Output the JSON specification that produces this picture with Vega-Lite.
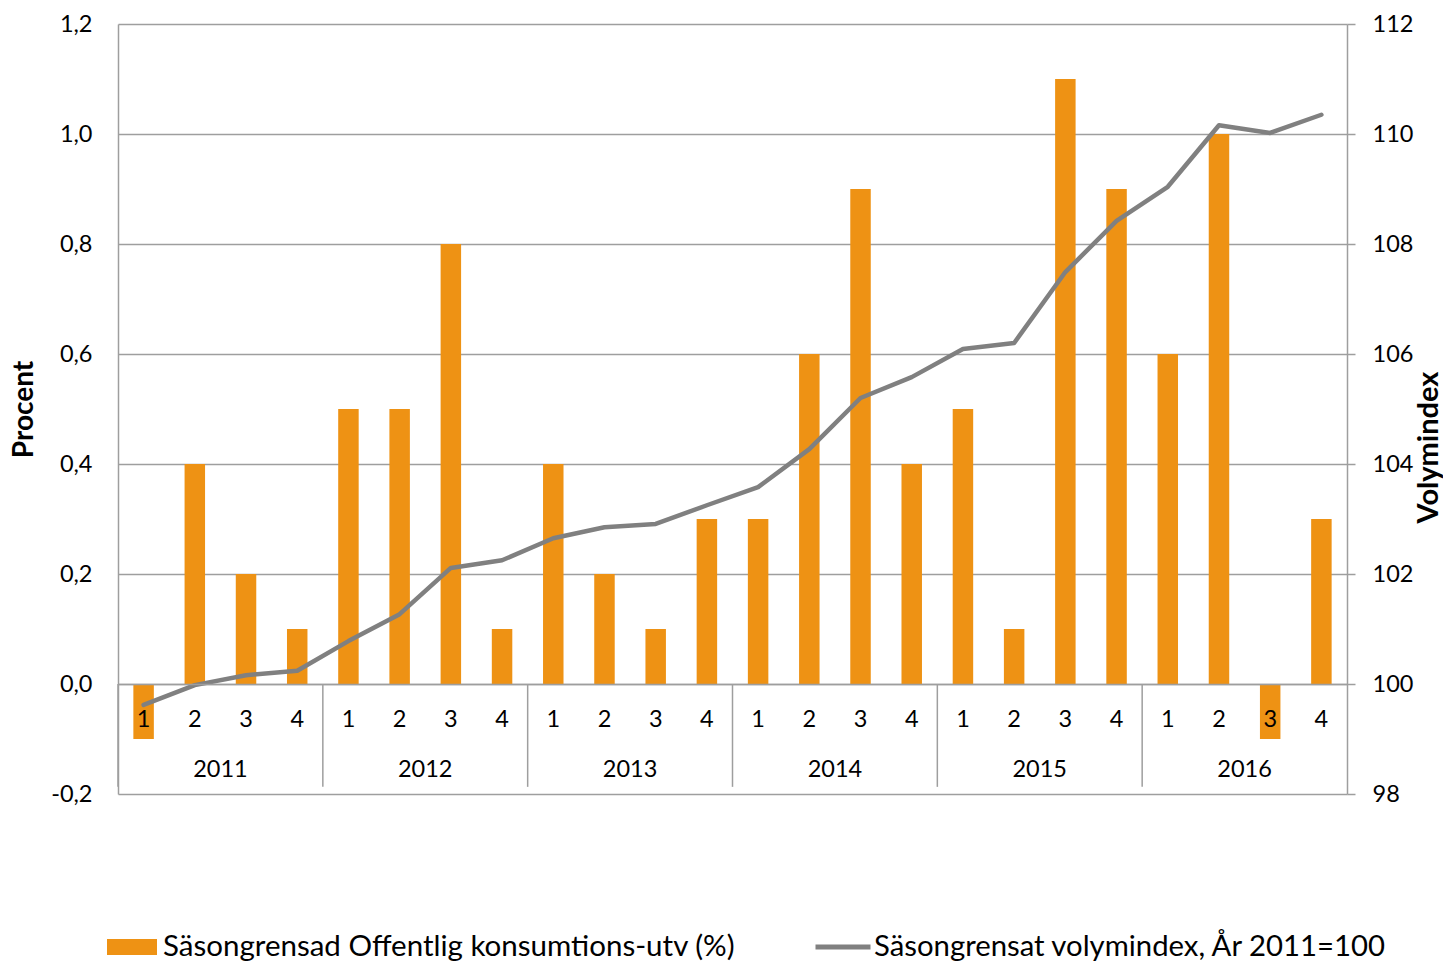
{
  "$schema": "https://vega.github.io/schema/vega-lite/v6.json",
  "width": 1229,
  "height": 770,
  "autosize": {"type": "none"},
  "padding": {"left": 118, "top": 24, "right": 96, "bottom": 169},
  "background": "white",
  "config": {
    "font": "Lato",
    "view": {"stroke": null},
    "locale": {"number": {"decimal": ",", "thousands": " ", "grouping": [3], "currency": ["", " kr"], "minus": "-"}},
    "axis": {"labelColor": "#000000", "titleColor": "#000000", "labelFont": "Lato", "titleFont": "Lato", "labelFontSize": 23.5, "domainColor": "#9E9E9E", "tickColor": "#9E9E9E", "gridColor": "#9E9E9E", "domainWidth": 1.5, "tickWidth": 1.5, "gridWidth": 1.5}
  },
  "layer": [
    {
      "data": {"name": "main", "values": [
        {"q": "2011-1", "pct": -0.1, "idx": 99.62},
        {"q": "2011-2", "pct": 0.4, "idx": 99.98},
        {"q": "2011-3", "pct": 0.2, "idx": 100.16},
        {"q": "2011-4", "pct": 0.1, "idx": 100.24},
        {"q": "2012-1", "pct": 0.5, "idx": 100.78},
        {"q": "2012-2", "pct": 0.5, "idx": 101.27},
        {"q": "2012-3", "pct": 0.8, "idx": 102.11},
        {"q": "2012-4", "pct": 0.1, "idx": 102.25},
        {"q": "2013-1", "pct": 0.4, "idx": 102.65},
        {"q": "2013-2", "pct": 0.2, "idx": 102.85},
        {"q": "2013-3", "pct": 0.1, "idx": 102.91},
        {"q": "2013-4", "pct": 0.3, "idx": 103.25},
        {"q": "2014-1", "pct": 0.3, "idx": 103.58},
        {"q": "2014-2", "pct": 0.6, "idx": 104.27},
        {"q": "2014-3", "pct": 0.9, "idx": 105.2},
        {"q": "2014-4", "pct": 0.4, "idx": 105.58},
        {"q": "2015-1", "pct": 0.5, "idx": 106.09},
        {"q": "2015-2", "pct": 0.1, "idx": 106.2},
        {"q": "2015-3", "pct": 1.1, "idx": 107.49},
        {"q": "2015-4", "pct": 0.9, "idx": 108.42},
        {"q": "2016-1", "pct": 0.6, "idx": 109.04},
        {"q": "2016-2", "pct": 1.0, "idx": 110.16},
        {"q": "2016-3", "pct": -0.1, "idx": 110.02},
        {"q": "2016-4", "pct": 0.3, "idx": 110.35}
      ]},
      "mark": {"type": "bar", "width": {"band": 0.4}},
      "encoding": {
        "x": {"field": "q", "type": "ordinal", "sort": null, "scale": {"paddingInner": 0, "paddingOuter": 0},
          "axis": {"orient": "bottom", "offset": -110, "title": null, "labelAngle": 0, "ticks": false, "domain": true, "labelPadding": 23, "labelExpr": "substring(datum.value, 5)", "zindex": 2, "labelBaseline": "top"}},
        "y": {"field": "pct", "type": "quantitative", "scale": {"domain": [-0.2, 1.2], "nice": false, "zero": false},
          "axis": {"orient": "left", "values": [-0.2, 0, 0.2, 0.4, 0.6, 0.8, 1.0, 1.2], "format": ".1f", "ticks": false, "labelPadding": 26, "grid": true, "title": "Procent", "titleFontSize": 28, "titleFontWeight": "bold", "titlePadding": 12}},
        "color": {"datum": "Säsongrensad Offentlig konsumtions-utv (%)", "type": "nominal", "scale": {"range": ["#EE9214"]},
          "legend": {"orient": "none", "legendX": -11, "legendY": 898, "title": null, "symbolType": "M-1,-0.32H1V0.32H-1Z", "symbolSize": 2500, "symbolStrokeWidth": 0, "labelFontSize": 29.5, "labelFont": "Lato", "labelColor": "#000000", "labelOffset": 6, "padding": 0, "labelLimit": 800}}
      }
    },
    {
      "data": {"name": "main"},
      "mark": {"type": "line", "strokeWidth": 4.5, "strokeCap": "round", "strokeJoin": "round"},
      "encoding": {
        "x": {"field": "q", "type": "ordinal", "sort": null, "scale": {"paddingInner": 0, "paddingOuter": 0}, "axis": null},
        "y": {"field": "idx", "type": "quantitative", "scale": {"domain": [98, 112], "nice": false, "zero": false},
          "axis": {"orient": "right", "values": [98, 100, 102, 104, 106, 108, 110, 112], "format": "d", "ticks": true, "tickSize": 8, "labelPadding": 17, "grid": false, "title": "Volymindex", "titleFontSize": 29, "titleFontWeight": "bold", "titleAngle": 270, "titlePadding": 31, "titleY": 423}},
        "stroke": {"datum": "Säsongrensat volymindex, År 2011=100", "type": "nominal", "scale": {"range": ["#808080"]},
          "legend": {"orient": "none", "legendX": 695, "legendY": 893, "title": null, "symbolType": "stroke", "symbolSize": 3025, "symbolStrokeWidth": 5, "labelFontSize": 29.3, "labelFont": "Lato", "labelColor": "#000000", "labelOffset": 1, "padding": 0, "labelLimit": 800}}
      }
    },
    {
      "data": {"values": [
        {"year": "2011"}, {"year": "2012"}, {"year": "2013"}, {"year": "2014"}, {"year": "2015"}, {"year": "2016"}
      ]},
      "mark": {"type": "rule", "color": "#9E9E9E", "strokeWidth": 1.5},
      "encoding": {
        "x": {"field": "year", "type": "ordinal", "bandPosition": 0, "scale": {"paddingInner": 0, "paddingOuter": 0},
          "axis": {"orient": "bottom", "offset": -110, "title": null, "labelAngle": 0, "ticks": false, "domain": false, "grid": false, "labelPadding": 73, "bandPosition": 0.5, "labelBaseline": "top"}},
        "y": {"datum": 0, "type": "quantitative", "scale": {"domain": [-0.2, 1.2], "nice": false, "zero": false}, "axis": null},
        "y2": {"datum": -0.187}
      }
    }
  ],
  "resolve": {"scale": {"x": "independent", "y": "independent", "color": "independent", "stroke": "independent"}, "axis": {"x": "independent", "y": "independent"}}
}
